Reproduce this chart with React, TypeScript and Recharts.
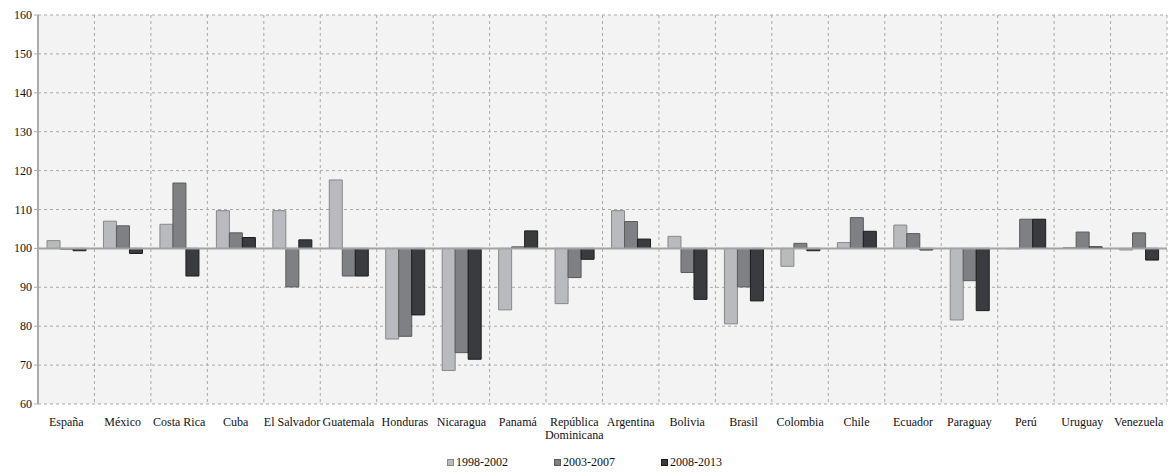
import React from 'react';
import {
  BarChart,
  Bar,
  XAxis,
  YAxis,
  CartesianGrid,
  Legend,
  ReferenceLine,
} from 'recharts';

const countries = [
  'España', 'México', 'Costa Rica', 'Cuba', 'El Salvador', 'Guatemala', 'Honduras',
  'Nicaragua', 'Panamá', 'República\nDominicana', 'Argentina', 'Bolivia', 'Brasil',
  'Colombia', 'Chile', 'Ecuador', 'Paraguay', 'Perú', 'Uruguay', 'Venezuela',
];

const p1998 = [102.0, 107.0, 106.2, 109.7, 109.7, 117.6, 76.7, 68.6, 84.2, 85.8, 109.7, 103.1, 80.6, 95.4, 101.5, 106.0, 81.6, 99.9, 100.2, 99.6];
const p2003 = [99.8, 105.8, 116.8, 104.0, 90.1, 92.9, 77.4, 73.2, 100.4, 92.5, 106.9, 93.8, 90.1, 101.3, 107.9, 103.8, 91.7, 107.5, 104.2, 104.0];
const p2008 = [99.4, 98.7, 92.9, 102.8, 102.2, 92.9, 82.9, 71.5, 104.5, 97.2, 102.4, 86.9, 86.5, 99.4, 104.4, 99.6, 84.0, 107.5, 100.4, 97.0];

const seriesNames = ['1998-2002', '2003-2007', '2008-2013'];
const yTicks = [60, 70, 80, 90, 100, 110, 120, 130, 140, 150, 160];

const fills = ['#b8babd', '#7f8084', '#393b3e'];
const strokes = ['#888888', '#5a5a5a', '#1c1c1c'];

const data = countries.map((name, i) => ({
  name,
  a: p1998[i],
  b: p2003[i],
  c: p2008[i],
}));

const FONT = "'Liberation Serif', 'Times New Roman', 'DejaVu Serif', serif";

// bars grow from 100 up or down
const fromBase = (key: 'a' | 'b' | 'c') => (d: any) => [Math.min(100, d[key]), Math.max(100, d[key])];

const YTick = (props: any) => {
  const { x, y, payload } = props;
  return (
    <text x={x} y={y} dy={4} textAnchor="end" style={{ fontFamily: FONT, fontSize: 12 }} fill="#111">
      {payload.value}
    </text>
  );
};

const CountryTick = (props: any) => {
  const { x, y, payload } = props;
  const lines = String(payload.value).split('\n');
  return (
    <text x={x} y={y} textAnchor="middle" style={{ fontFamily: FONT, fontSize: 12 }} fill="#111">
      {lines.map((l, i) => (
        <tspan key={i} x={x} dy={i === 0 ? 14 : 13}>{l}</tspan>
      ))}
    </text>
  );
};

const LegendBox = () => (
  <div
    style={{
      display: 'flex',
      justifyContent: 'center',
      fontFamily: FONT,
      fontSize: 12,
      color: '#111',
      lineHeight: '14px',
      paddingTop: 11,
      paddingLeft: 40,
    }}
  >
    {seriesNames.map((n, i) => (
      <div key={n} style={{ width: 107, display: 'flex', alignItems: 'center' }}>
        <span
          style={{
            display: 'inline-block',
            width: 5,
            height: 5,
            background: fills[i],
            border: `1px solid ${strokes[i]}`,
            marginRight: 2,
          }}
        />
        {n}
      </div>
    ))}
  </div>
);

export default function App() {
  return (
    <div style={{ position: 'absolute', left: 0, top: 0, width: 1172, height: 472, background: '#fff' }}>
      <BarChart
        width={1172}
        height={472}
        data={data}
        margin={{ top: 15, right: 5, bottom: 6, left: 8 }}
        barCategoryGap="16%"
        barGap={0}
      >
        <CartesianGrid
          fill="#f3f3f3"
          stroke="#a9a9a9"
          strokeDasharray="3 3"
          verticalCoordinatesGenerator={({ offset }: any) =>
            countries.map((_, i) => offset.left + ((i + 1) * offset.width) / countries.length)
          }
        />
        <XAxis
          dataKey="name"
          height={40}
          axisLine={false}
          tickLine={false}
          interval={0}
          tick={<CountryTick />}
        />
        <YAxis
          width={30}
          domain={[60, 160]}
          ticks={yTicks}
          interval={0}
          axisLine={{ stroke: '#ababab', strokeWidth: 2 }}
          tickLine={{ stroke: '#ababab' }}
          tickSize={4}
          tick={<YTick />}
        />
        <Legend verticalAlign="bottom" height={22} content={<LegendBox />} />
        <ReferenceLine y={100} stroke="#a3a3a3" strokeWidth={2} />
        <Bar dataKey={fromBase('a')} name={seriesNames[0]} fill={fills[0]} stroke={strokes[0]} strokeWidth={1} isAnimationActive={false} />
        <Bar dataKey={fromBase('b')} name={seriesNames[1]} fill={fills[1]} stroke={strokes[1]} strokeWidth={1} isAnimationActive={false} />
        <Bar dataKey={fromBase('c')} name={seriesNames[2]} fill={fills[2]} stroke={strokes[2]} strokeWidth={1} isAnimationActive={false} />
      </BarChart>
    </div>
  );
}
